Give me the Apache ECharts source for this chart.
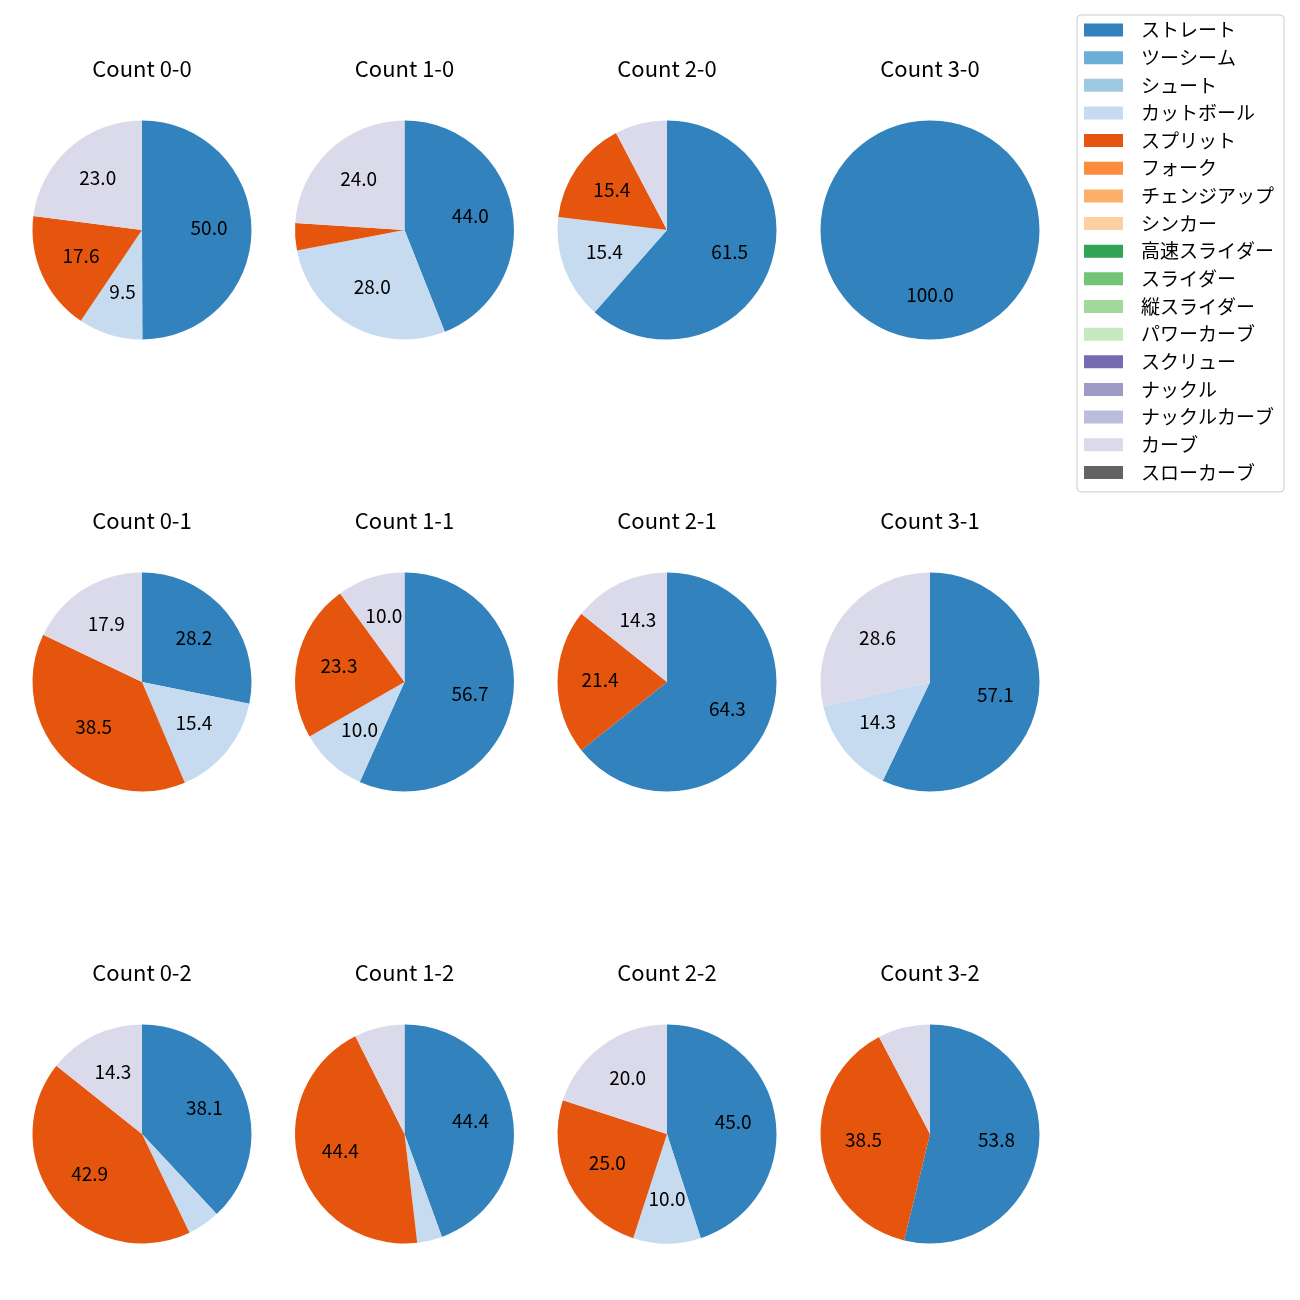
<!DOCTYPE html>
<html><head><meta charset="utf-8">
<script src="https://cdn.jsdelivr.net/npm/echarts@6/dist/echarts.min.js"></script>
<style>html,body{margin:0;padding:0;background:#fff}#c{width:1300px;height:1300px}</style>
</head><body><div id="c"></div>
<script>
// ---- data ----
const pitchTypes = ['ストレート','ツーシーム','シュート','カットボール','スプリット','フォーク','チェンジアップ','シンカー','高速スライダー','スライダー','縦スライダー','パワーカーブ','スクリュー','ナックル','ナックルカーブ','カーブ','スローカーブ'];
const pitchColors = ['#3182bd','#6baed6','#9ecae1','#c6dbef','#e6550d','#fd8d3c','#fdae6b','#fdd0a2','#31a354','#74c476','#a1d99b','#c7e9c0','#756bb1','#9e9ac8','#bcbddc','#dadaeb','#636363'];
const counts = ['0-0','1-0','2-0','3-0','0-1','1-1','2-1','3-1','0-2','1-2','2-2','3-2'];
const straight = [50.0, 44.0, 61.5, 100.0, 28.2, 56.7, 64.3, 57.1, 38.1, 44.4, 45.0, 53.8];
const cutBall  = [9.5, 28.0, 15.4, 0, 15.4, 10.0, 0, 14.3, 4.8, 3.7, 10.0, 0];
const split    = [17.6, 4.0, 15.4, 0, 38.5, 23.3, 21.4, 0, 42.9, 44.4, 25.0, 38.5];
const curve    = [23.0, 24.0, 7.7, 0, 17.9, 10.0, 14.3, 28.6, 14.3, 7.4, 20.0, 7.7];
const valuesByType = {'ストレート': straight, 'カットボール': cutBall, 'スプリット': split, 'カーブ': curve};

// ---- layout ----
const colX = [142, 404.5, 667, 930];
const rowY = [230, 682, 1134];
const R = 109.5;
const LABEL_R0 = 18.5;
const FONT = '"Noto Sans CJK JP", "Noto Sans", sans-serif';

const series = [];
const graphics = [];
counts.forEach((c, k) => {
  const col = k % 4, row = Math.floor(k / 4);
  const center = [colX[col], rowY[row]];
  const data = pitchTypes.map((t, i) => ({
    name: t,
    value: valuesByType[t] ? valuesByType[t][k] : 0,
    itemStyle: {color: pitchColors[i]}
  }));
  series.push({
    type: 'pie', center: center, radius: [0, R], startAngle: 90, clockwise: true,
    data: data, label: {show: false}, labelLine: {show: false},
    itemStyle: {borderWidth: 0}, emphasis: {disabled: true}, silent: true, animation: false
  });
  series.push({
    type: 'pie', center: center, radius: [LABEL_R0, R], startAngle: 90, clockwise: true,
    data: data.map(d => ({name: d.name, value: d.value, itemStyle: {color: 'rgba(0,0,0,0)'}})),
    label: {show: true, position: 'inside', color: '#000', fontSize: 19, fontFamily: FONT,
      formatter: p => (p.value >= 8 ? p.value.toFixed(1) : '')},
    labelLayout: {dy: -2},
    labelLine: {show: false}, itemStyle: {borderWidth: 0},
    emphasis: {disabled: true}, silent: true, animation: false
  });
  graphics.push({
    type: 'text', x: colX[col], y: rowY[row] - 161.5, silent: true,
    style: {text: 'Count ' + c, textAlign: 'center', textVerticalAlign: 'middle',
      fontSize: 22, fontFamily: FONT, fill: '#000'}
  });
});

const chart = echarts.init(document.getElementById('c'), null, {renderer: 'canvas'});
chart.setOption({
  backgroundColor: '#fff',
  animation: false,
  legend: {
    orient: 'vertical', left: 1077, top: 15, data: pitchTypes, icon: 'rect',
    itemWidth: 39, itemHeight: 13, itemGap: 8.65, padding: [5.5, 10, 10, 7],
    borderColor: '#cccccc', borderWidth: 1, borderRadius: 4, backgroundColor: '#fff',
    selectedMode: false,
    textStyle: {fontSize: 19, fontFamily: FONT, color: '#000', lineHeight: 18, padding: [0, 0, 0, 13]}
  },
  graphic: graphics,
  series: series
});
</script></body></html>
